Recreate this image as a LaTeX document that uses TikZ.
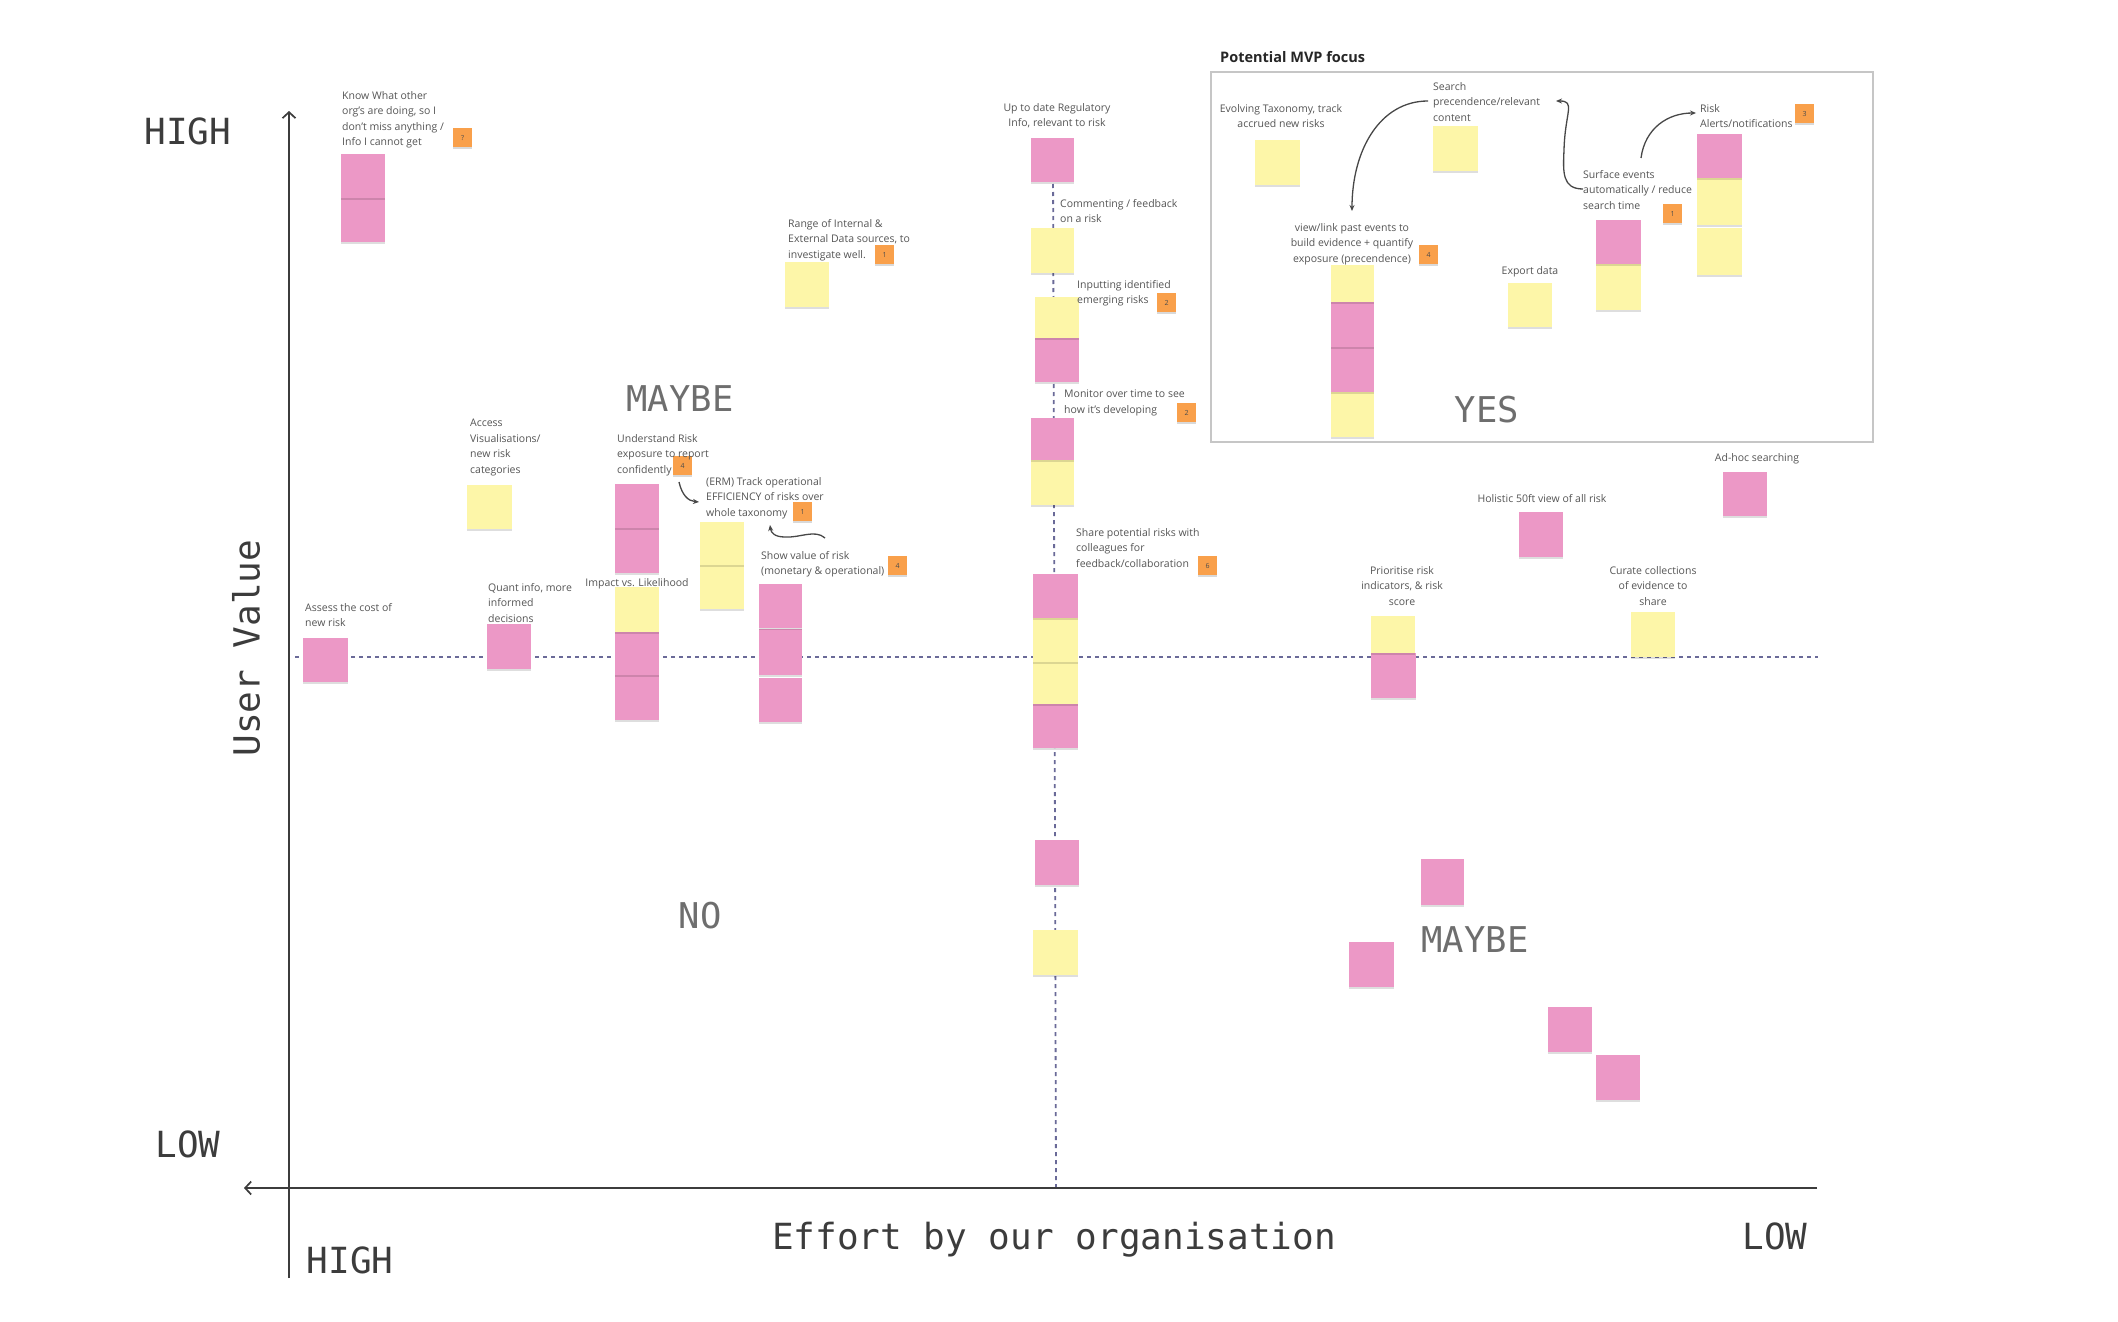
\documentclass[tikz,border=0pt]{standalone}
\usepackage{fontspec}
\setmainfont{Open Sans}
\newfontfamily\monofont{DejaVu Sans Mono}
\usetikzlibrary{arrows.meta,shadows}
\definecolor{pinkn}{HTML}{EC98C6}
\definecolor{yellown}{HTML}{FDF6A8}
\definecolor{orangeb}{HTML}{F9A04B}
\definecolor{lblgray}{HTML}{555555}
\definecolor{biggray}{HTML}{6E6E6E}
\definecolor{axisgray}{HTML}{3C3C3C}
\definecolor{dashc}{HTML}{6A6A98}
\definecolor{boxgray}{HTML}{C6C6C6}
\tikzset{
  notebase/.style={anchor=north west, inner sep=0pt, minimum width=44pt, minimum height=44pt,
    drop shadow={shadow xshift=0pt, shadow yshift=-2pt, opacity=0.13, fill=black}},
  pn/.style={notebase, fill=pinkn},
  yn/.style={notebase, fill=yellown},
  badge/.style={anchor=north west, fill=orangeb, minimum size=19pt, inner sep=0pt,
    font=\fontsize{7}{8}\selectfont, text=black!70,
    drop shadow={shadow xshift=0pt, shadow yshift=-1.5pt, opacity=0.15, fill=black}},
  lbl/.style={inner sep=0pt, text=lblgray, font=\fontsize{10.5}{15.5}\selectfont},
  lblL/.style={lbl, anchor=north west, align=left},
  lblC/.style={lbl, anchor=north, align=center},
  big/.style={font=\monofont\fontsize{35.5}{40}\selectfont, text=biggray, inner sep=0pt},
  axlbl/.style={font=\monofont\fontsize{36}{40}\selectfont, text=axisgray, inner sep=0pt},
  axisline/.style={draw=axisgray, line width=1.7pt},
  dashline/.style={draw=dashc, line width=1.8pt, dash pattern=on 4pt off 4pt},
  curvy/.style={draw=black!72, line width=1.3pt, -{Stealth[length=6pt, width=5pt]}},
}
\begin{document}
\begin{tikzpicture}[x=1pt, y=-1pt]
\useasboundingbox (0,0) rectangle (2118,1322);
\fill[white] (0,0) rectangle (2118,1322);

% coordinates of lines
\coordinate (ytop) at (289,111);
\coordinate (ybot) at (289,1278);
\coordinate (xleft) at (244,1188);
\coordinate (xright) at (1817,1188);
\coordinate (hdl) at (295,657);
\coordinate (hdr) at (1818,657);
\coordinate (vdt) at (1053,160);
\coordinate (vdb) at (1056,1188);

% dashed guide lines
\draw[dashline] (hdl) -- (hdr);
\draw[dashline] (vdt) -- (vdb);

% axes
\draw[axisline, -{Straight Barb[length=6pt, width=13pt]}] (ybot) -- (ytop);
\draw[axisline, -{Straight Barb[length=6pt, width=13pt]}] (xright) -- (xleft);

% MVP box
\draw[draw=boxgray, line width=2pt] (1211,72) rectangle (1873,442);
\node[anchor=west, inner sep=0pt, font=\bfseries\fontsize{14.5}{17}\selectfont, text=black!85] (mvp) at (1220,57) {Potential MVP focus};

% axis labels
\node[axlbl] (hightop) at (188,131) {HIGH};
\node[axlbl] (lowleft) at (188,1144) {LOW};
\node[axlbl] (highbot) at (350,1260) {HIGH};
\node[axlbl, anchor=base] (effort) at (1054,1249) {Effort by our organisation};
\node[axlbl, anchor=base] (lowright) at (1775,1249) {LOW};
\node[axlbl, rotate=90] (uservalue) at (246,648) {User Value};

% quadrant labels
\node[big] (maybe1) at (680,399) {MAYBE};
\node[big] (no) at (700,916) {NO};
\node[big] (maybe2) at (1475,940) {MAYBE};
\node[big] (yes) at (1487,410) {YES};

% ---------- sticky notes (stacks drawn bottom-up) ----------
% Know what other org's
\node[pn] (n2) at (341,198) {};
\node[pn] (n1) at (341,154) {};
% Range of internal
\node[yn, minimum height=45pt] (n3) at (785,262) {};
% Up to date regulatory
\node[pn, minimum width=43pt] (n4) at (1031,138) {};
% Commenting
\node[yn, minimum width=43pt, minimum height=45pt] (n5) at (1031,228) {};
% Inputting
\node[pn] (n7) at (1035,338) {};
\node[yn, minimum height=41pt] (n6) at (1035,297) {};
% Monitor
\node[yn, minimum width=43pt, minimum height=45pt] (n9) at (1031,460) {};
\node[pn, minimum width=43pt, minimum height=42pt] (n8) at (1031,418) {};
% Share
\node[pn, minimum width=45pt] (n13) at (1033,704) {};
\node[yn, minimum width=45pt, minimum height=42pt] (n12) at (1033,662) {};
\node[yn, minimum width=45pt] (n11) at (1033,618) {};
\node[pn, minimum width=45pt] (n10) at (1033,574) {};
% lower vertical
\node[pn, minimum height=45pt] (n14) at (1035,840) {};
\node[yn, minimum width=45pt, minimum height=45pt] (n15) at (1033,930) {};
% Access
\node[yn, minimum width=45pt] (n16) at (467,485) {};
% Assess
\node[pn, minimum width=45pt] (n17) at (303,638) {};
% Quant
\node[pn, minimum height=45pt] (n18) at (487,624) {};
% Impact (below Understand)
\node[pn, minimum height=45pt] (n23) at (615,675) {};
\node[pn, minimum height=43pt] (n22) at (615,632) {};
\node[yn, minimum height=45pt] (n21) at (615,587) {};
% Understand
\node[pn, minimum height=45pt] (n20) at (615,528) {};
\node[pn] (n19) at (615,484) {};
% ERM
\node[yn] (n25) at (700,565) {};
\node[yn, minimum height=43pt] (n24) at (700,522) {};
% Show value
\node[pn, minimum width=43pt] (n28) at (759,678) {};
\node[pn, minimum width=43pt, minimum height=46pt] (n27) at (759,629) {};
\node[pn, minimum width=43pt] (n26) at (759,584) {};
% MVP box notes
\node[yn, minimum width=45pt, minimum height=45pt] (n29) at (1255,140) {};
\node[yn, minimum width=45pt, minimum height=45pt] (n30) at (1433,126) {};
\node[yn, minimum width=43pt, minimum height=45pt] (n34) at (1331,392) {};
\node[pn, minimum width=43pt, minimum height=45pt] (n33) at (1331,347) {};
\node[pn, minimum width=43pt, minimum height=45pt] (n32) at (1331,302) {};
\node[yn, minimum width=43pt, minimum height=37pt] (n31) at (1331,265) {};
\node[yn] (n35) at (1508,283) {};
\node[yn, minimum width=45pt, minimum height=46pt] (n37) at (1596,264) {};
\node[pn, minimum width=45pt] (n36) at (1596,220) {};
\node[yn, minimum width=45pt, minimum height=47pt] (n40) at (1697,228) {};
\node[yn, minimum width=45pt, minimum height=47pt] (n39) at (1697,178) {};
\node[pn, minimum width=45pt] (n38) at (1697,134) {};
% right side
\node[pn] (n41) at (1723,472) {};
\node[pn, minimum height=45pt] (n42) at (1519,512) {};
\node[pn, minimum width=45pt, minimum height=45pt] (n44) at (1371,653) {};
\node[yn, minimum height=37pt] (n43) at (1371,616) {};
\node[yn, minimum height=45pt] (n45) at (1631,612) {};
% lower right
\node[pn, minimum width=43pt, minimum height=46pt] (n46) at (1421,859) {};
\node[pn, minimum width=45pt, minimum height=45pt] (n47) at (1349,942) {};
\node[pn, minimum height=45pt] (n48) at (1548,1007) {};
\node[pn, minimum height=45pt] (n49) at (1596,1055) {};

% ---------- badges ----------
\node[badge] (b1) at (453,128) {?};
\node[badge] (b2) at (875,245) {1};
\node[badge] (b3) at (1157,293) {2};
\node[badge] (b4) at (1177,403) {2};
\node[badge] (b5) at (1198,556) {6};
\node[badge] (b6) at (1419,245) {4};
\node[badge] (b7) at (1795,104) {3};
\node[badge] (b8) at (1663,204) {1};
\node[badge] (b9) at (673,456) {4};
\node[badge] (b10) at (793,502) {1};
\node[badge] (b11) at (888,556) {4};

% ---------- labels ----------
\node[lblL] (l1) at (342,91) {Know What other\\org's are doing, so I\\don't miss anything /\\Info I cannot get};
\node[lblL] (l2) at (788,219) {Range of Internal \&\\External Data sources, to\\investigate well.};
\node[lblC] (l3) at (1057,103) {Up to date Regulatory\\Info, relevant to risk};
\node[lblL] (l4) at (1060,199) {Commenting / feedback\\on a risk};
\node[lblL] (l5) at (1077,280) {Inputting identified\\emerging risks};
\node[lblL] (l6) at (1064,390) {Monitor over time to see\\how it's developing};
\node[lblL] (l7) at (1076,528) {Share potential risks with\\colleagues for\\feedback/collaboration};
\node[lblL] (l8) at (470,419) {Access\\Visualisations/\\new risk\\categories};
\node[lblL] (l9) at (305,603) {Assess the cost of\\new risk};
\node[lblL] (l10) at (488,583) {Quant info, more\\informed\\decisions};
\node[lblL] (l11) at (617,434) {Understand Risk\\exposure to report\\confidently};
\node[lblL] (l12) at (706,477) {(ERM) Track operational\\EFFICIENCY of risks over\\whole taxonomy};
\node[lblC] (l13) at (637,578) {Impact vs. Likelihood};
\node[lblL] (l14) at (761,551) {Show value of risk\\(monetary \& operational)};
\node[lblC] (l15) at (1281,104) {Evolving Taxonomy, track\\accrued new risks};
\node[lblL] (l16) at (1433,82) {Search\\precendence/relevant\\content};
\node[lblC] (l17) at (1352,223) {view/link past events to\\build evidence + quantify\\exposure (precendence)};
\node[lblC] (l18) at (1530,266) {Export data};
\node[lblL] (l19) at (1700,104) {Risk\\Alerts/notifications};
\node[lblL] (l20) at (1583,170) {Surface events\\automatically / reduce\\search time};
\node[lblC] (l21) at (1757,453) {Ad-hoc searching};
\node[lblC] (l22) at (1542,494) {Holistic 50ft view of all risk};
\node[lblC] (l23) at (1402,566) {Prioritise risk\\indicators, \& risk\\score};
\node[lblC] (l24) at (1653,566) {Curate collections\\of evidence to\\share};

% ---------- curved arrows ----------
\coordinate (a1s) at (1428,101);
\coordinate (a1e) at (1352,211);
\draw[curvy] (a1s) .. controls (1380,101) and (1352,150) .. (a1e);
\coordinate (a2s) at (1583,189);
\coordinate (a2m) at (1564,150);
\coordinate (a2e) at (1556,101);
\draw[curvy] (a2s) .. controls (1562,189) and (1563,172) .. (a2m) .. controls (1565,112) and (1576,101) .. (a2e);
\coordinate (a3s) at (1641,158);
\coordinate (a3e) at (1696,113);
\draw[curvy] (a3s) .. controls (1645,128) and (1668,113) .. (a3e);
\coordinate (a4s) at (679,482);
\coordinate (a4e) at (699,502);
\draw[curvy] (a4s) .. controls (682,495) and (688,501) .. (a4e);
\coordinate (a5s) at (825,538);
\coordinate (a5m) at (785,537);
\coordinate (a5e) at (770,525);
\draw[curvy] (a5s) .. controls (815,529) and (800,538) .. (a5m) .. controls (775,537) and (771,533) .. (a5e);
\end{tikzpicture}
\end{document}
